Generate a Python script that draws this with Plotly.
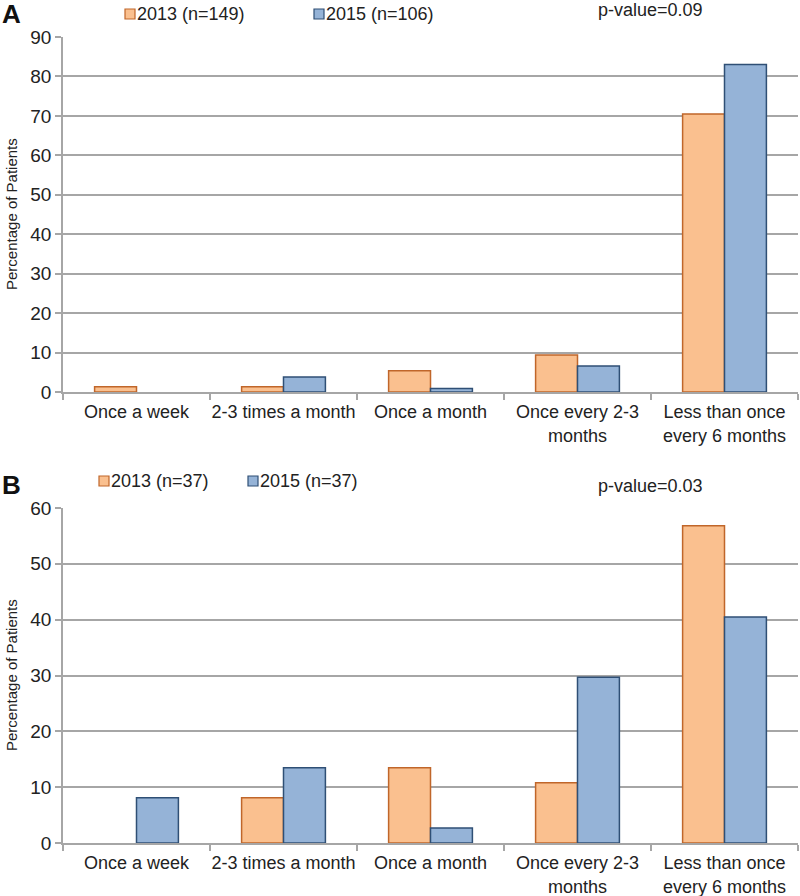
import plotly.graph_objects as go

categories = ["Once a week", "2-3 times a month", "Once a month",
              "Once every 2-3<br>months", "Less than once<br>every 6 months"]

# panel A
a_2013 = [1.3, 1.3, 5.4, 9.4, 70.5]
a_2015 = [0, 3.8, 0.9, 6.6, 83.0]
a_names = ["2013 (n=149)", "2015 (n=106)"]
a_pvalue = "p-value=0.09"

# panel B
b_2013 = [0, 8.1, 13.5, 10.8, 56.8]
b_2015 = [8.1, 13.5, 2.7, 29.7, 40.5]
b_names = ["2013 (n=37)", "2015 (n=37)"]
b_pvalue = "p-value=0.03"

orange = "#FAC08F"
orange_edge = "#C0662A"
blue = "#95B3D7"
blue_edge = "#2F4F75"
grid = "#A6A6A6"
font = "Liberation Sans, Arial, sans-serif"

W, H = 800, 896

def px_x(x):
    return x / W

def px_y(y):
    return 1 - y / H

fig = go.Figure()

for vals, name, fill, edge, ax in [
        (a_2013, a_names[0], orange, orange_edge, ""),
        (a_2015, a_names[1], blue, blue_edge, ""),
        (b_2013, b_names[0], orange, orange_edge, "2"),
        (b_2015, b_names[1], blue, blue_edge, "2")]:
    fig.add_trace(go.Bar(
        x=categories, y=[v if v > 0 else None for v in vals], name=name,
        marker=dict(color=fill, line=dict(color=edge, width=1.5)),
        xaxis="x" + ax, yaxis="y" + ax, showlegend=False))

xax = dict(showline=True, linecolor=grid, linewidth=1.5, ticks="outside",
           tickson="boundaries", ticklen=6, tickcolor=grid, tickwidth=1.5,
           showgrid=False, tickfont=dict(size=18, color="#222"),
           tickangle=0, automargin=False, ticklabelstandoff=3,
           domain=[px_x(63), px_x(798)])
yax = dict(showline=True, linecolor=grid, linewidth=1.5, ticks="outside",
           ticklen=6, tickcolor=grid, tickwidth=1.5, showgrid=True,
           gridcolor=grid, gridwidth=2, zeroline=False, automargin=False,
           tickfont=dict(size=19, color="#222"), dtick=10)

fig.update_layout(
    width=W, height=H,
    margin=dict(l=0, r=0, t=0, b=0),
    paper_bgcolor="white", plot_bgcolor="white",
    font=dict(family=font, color="#222"),
    barmode="group", bargap=0.43, bargroupgap=0,
    xaxis=dict(xax, anchor="y"),
    yaxis=dict(yax, range=[0, 90], domain=[px_y(392), px_y(37)], anchor="x"),
    xaxis2=dict(xax, anchor="y2"),
    yaxis2=dict(yax, range=[0, 60], domain=[px_y(843), px_y(508)], anchor="x2"),
)

annotations = []
shapes = []

def add_header(letter, letter_y, names, sq_x, text_y, pvalue, p_x, p_y, title_y):
    annotations.append(dict(x=px_x(0), y=px_y(letter_y), xref="paper", yref="paper",
                            text="<b>" + letter + "</b>", showarrow=False,
                            xanchor="left", yanchor="middle",
                            font=dict(size=26, color="#111")))
    for name, x0, fill, edge in zip(names, sq_x, [orange, blue], [orange_edge, blue_edge]):
        shapes.append(dict(type="rect", xref="paper", yref="paper",
                           x0=px_x(x0), x1=px_x(x0 + 10),
                           y0=px_y(text_y + 5), y1=px_y(text_y - 5),
                           fillcolor=fill, line=dict(color=edge, width=1.2)))
        annotations.append(dict(x=px_x(x0 + 10), y=px_y(text_y), xref="paper", yref="paper",
                                text=name, showarrow=False, xanchor="left",
                                yanchor="middle", font=dict(size=18)))
    annotations.append(dict(x=px_x(p_x), y=px_y(p_y), xref="paper", yref="paper",
                            text=pvalue, showarrow=False, xanchor="center",
                            yanchor="middle", font=dict(size=18)))
    annotations.append(dict(x=px_x(11), y=px_y(title_y), xref="paper", yref="paper",
                            text="Percentage of Patients", showarrow=False,
                            textangle=-90, xanchor="center", yanchor="middle",
                            font=dict(size=15)))

add_header("A", 14, a_names, [125, 314], 14, a_pvalue, 650, 10, 214)
add_header("B", 485, b_names, [99, 248], 481, b_pvalue, 650, 486, 675)

fig.update_layout(annotations=annotations, shapes=shapes)

# drop the default body margin so the figure sits at the page's top-left corner
fig.write_html("out.html", config={"displayModeBar": False},
               post_script="document.body.style.margin = '0';")
